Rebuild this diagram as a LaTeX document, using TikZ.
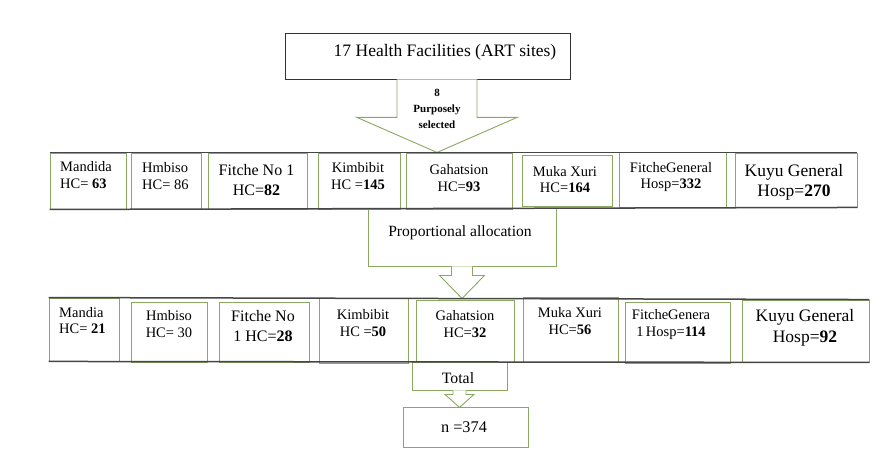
\documentclass[tikz,border=0pt]{standalone}
\usepackage{fontspec}
\setmainfont{Liberation Serif}
\definecolor{boxgreen}{RGB}{138,168,98}
\definecolor{rowgray}{RGB}{70,70,70}

\begin{document}
\begin{tikzpicture}[x=1pt,y=-1pt]
\tikzstyle{every node}=[inner sep=0pt]
\tikzstyle{site}=[draw=boxgreen,line width=0.9pt,fill=white]
\tikzstyle{small}=[align=center,font=\fontsize{14.5}{16.5}\selectfont]
\tikzstyle{mid}=[align=center,font=\fontsize{16}{20}\selectfont]
\tikzstyle{big}=[align=center,font=\fontsize{17.5}{20}\selectfont]
\tikzstyle{frame}=[draw=rowgray,line width=1.5pt]
\tikzstyle{callout}=[draw=boxgreen,line width=0.9pt,fill=white]

\useasboundingbox (0,0) rectangle (893,454);

% top box and first arrow
\node[draw=black!80,line width=0.9pt,minimum width=285pt,minimum height=46pt] (top) at (427.5,56) {};
\node[font=\fontsize{17.5}{20}\selectfont] (topt) at (445,52) {17 Health Facilities (ART sites)};
\draw[callout] ([xshift=-30.5pt]top.south) -- ++(0,38) -- ++(-40,0) -- ++(80,35)
 -- ++(80,-35) -- ++(-40,0) -- ++(0,-38);
\node[align=center,font=\bfseries\fontsize{11}{16}\selectfont] (sel) at (437,109) {8\\Purposely\\selected};

% allocation box and its arrow
\node[site,minimum width=188pt,minimum height=58pt] (prop) at (462,237) {};
\node[font=\fontsize{15.6}{18}\selectfont] (propt) at (460,233) {Proportional allocation};
\draw[callout] ([xshift=-10.5pt]prop.south) -- ++(0,9) -- ++(-12,0) -- ++(22.5,23)
 -- ++(22.5,-23) -- ++(-12,0) -- ++(0,-9);

% first row: facilities
\node[site,minimum width=76pt,minimum height=56pt] (a1) at (88,181) {};
\node[site,minimum width=70pt,minimum height=56pt] (a2) at (166,181) {};
\node[site,minimum width=99pt,minimum height=56pt] (a3) at (257.5,181) {};
\node[site,minimum width=82pt,minimum height=56pt] (a4) at (359,181) {};
\node[site,minimum width=106pt,minimum height=56pt] (a5) at (459,181) {};
\node[site,minimum width=90pt,minimum height=51pt] (a6) at (567,180.5) {};
\node[site,minimum width=107pt,minimum height=55pt] (a7) at (672.5,179.5) {};
\node[site,minimum width=122pt,minimum height=54pt] (a8) at (796,180) {};
\node[small,align=left,anchor=west] (a1t) at (60,175) {Mandida\\HC= \textbf{63}};
\node[small,align=left,anchor=west] (a2t) at (142,176) {Hmbiso\\HC= 86};
\node[mid] (a3t) at (256.5,180) {Fitche No 1\\HC=\textbf{82}};
\node[small] (a4t) at (358,176) {Kimbibit\\HC =\textbf{145}};
\node[small] (a5t) at (459,178) {Gahatsion\\HC=\textbf{93}};
\node[small] (a6t) at (565,179.5) {Muka Xuri\\HC=\textbf{164}};
\node[small] (a7t) at (671,177) {FitcheGeneral\\Hosp=\textbf{332}};
\node[big] (a8t) at (794,182) {Kuyu General\\Hosp=\textbf{270}};
\draw[frame] (a1.north west) -- (a8.north east);
\draw[frame] (a1.south west) -- (a8.south east);

% total box, arrow and sample size
\node[site,minimum width=95pt,minimum height=28pt] (total) at (459.5,376) {};
\node[font=\fontsize{15.8}{18}\selectfont] (totalt) at (458,378) {Total};
\draw[callout] ([xshift=-6.5pt]total.south) -- ++(0,4) -- ++(-8,0) -- ++(14.5,13)
 -- ++(14.5,-13) -- ++(-8,0) -- ++(0,-4);
\node[site,minimum width=125pt,minimum height=40pt] (n) at (465.5,427) {};
\node[font=\fontsize{16.3}{18}\selectfont] (nt) at (464,427) {n =374};

% second row: allocated sample
\node[site,minimum width=70pt,minimum height=63pt] (b1) at (84,329.5) {};
\node[site,minimum width=76pt,minimum height=60pt] (b2) at (169,332) {};
\node[site,minimum width=90pt,minimum height=60pt] (b3) at (264,332) {};
\node[site,minimum width=89pt,minimum height=65pt] (b4) at (363.5,330.5) {};
\node[site,minimum width=98pt,minimum height=62pt] (b5) at (465,331) {};
\node[site,minimum width=95pt,minimum height=65pt] (b6) at (570.5,329.5) {};
\node[site,minimum width=105pt,minimum height=61pt] (b7) at (677.5,332.5) {};
\node[site,minimum width=127pt,minimum height=62pt] (b8) at (805.5,331) {};
\node[small,align=left,anchor=west] (b1t) at (59,320.5) {Mandia\\HC= \textbf{21}};
\node[small] (b2t) at (169,324) {Hmbiso\\HC= 30};
\node[mid] (b3t) at (263,326) {Fitche No\\1 HC=\textbf{28}};
\node[small] (b4t) at (363,323) {Kimbibit\\HC =\textbf{50}};
\node[small] (b5t) at (465,324) {Gahatsion\\HC=\textbf{32}};
\node[small] (b6t) at (570,321) {Muka Xuri\\HC=\textbf{56}};
\node[small] (b7t) at (671,324.5) {FitcheGenera\\1\,Hosp=\textbf{114}};
\node[big,font=\fontsize{17.5}{21}\selectfont] (b8t) at (805,327.5) {Kuyu General\\Hosp=\textbf{92}};
\draw[frame] (b1.north west) -- (b8.north east);
\draw[frame] (b1.south west) -- (b8.south east);
\end{tikzpicture}
\end{document}
